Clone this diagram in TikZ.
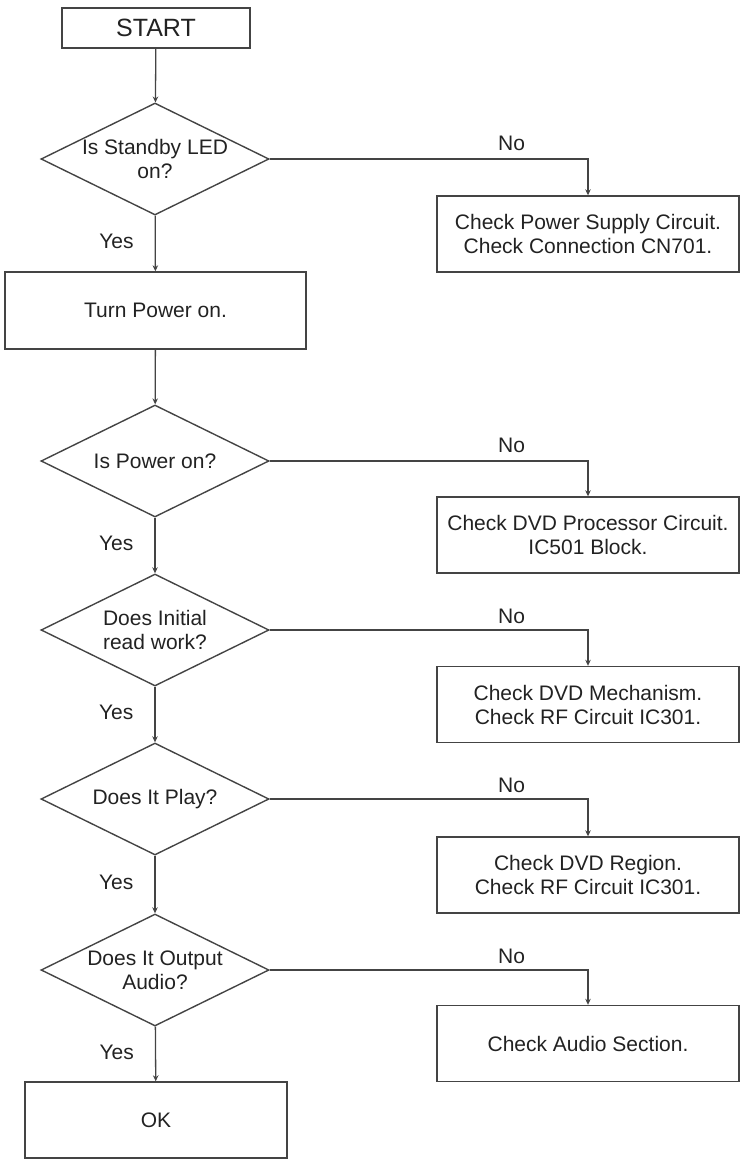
\documentclass[tikz,border=0pt]{standalone}
\usepackage{fontspec}
\setmainfont{Liberation Sans}
\usepackage{xcolor}
\usepackage{tikz}
\usetikzlibrary{positioning,arrows.meta,shapes.geometric}
\definecolor{ink}{HTML}{222222}
\definecolor{wire}{HTML}{444444}
\newcommand{\flowfont}{\fontsize{21}{24}\selectfont}
\tikzset{
  stepbox/.style={rectangle, draw=wire, line width=1.4pt, minimum height=76pt, inner sep=2pt, align=center, text=ink, font=\flowfont},
  ask/.style   ={diamond, aspect=2, draw=wire, line width=1.4pt, minimum width=228pt, minimum height=112pt, inner sep=-6pt, align=center, text=ink, font=\flowfont},
  fix/.style   ={stepbox, minimum width=302pt},
  flow/.style  ={-{Stealth[length=6pt,width=5.5pt]}, draw=wire, line width=1.3pt},
  ans/.style   ={text=ink, font=\flowfont, inner sep=3pt},
}

\begin{document}
\begin{tikzpicture}[x=1pt,y=-1pt]
        \useasboundingbox (0,0) rectangle (746,1162);
        \node[stepbox, minimum width=188pt, minimum height=40pt, font=\fontsize{25}{28}\selectfont] (S) at (156,28) {START};
        \node[ask]     (Q1) at (155,159)  {Is Standby LED\\on?};
        \node[stepbox, minimum width=301pt, minimum height=77pt] (P) at (155.5,310.5) {Turn Power on.};
        \node[ask]     (Q2) at (155,461)  {Is Power on?};
        \node[ask]     (Q3) at (155,630)  {Does Initial\\read work?};
        \node[ask]     (Q4) at (155,799)  {Does It Play?};
        \node[ask]     (Q5) at (155,970)  {Does It Output\\Audio?};
        \node[stepbox, minimum width=262pt] (K) at (156,1120) {OK};
        \node[fix]     (F1) at (588,234)  {Check Power Supply Circuit.\\Check Connection CN701.};
        \node[fix]     (F2) at (588,535)  {Check DVD Processor Circuit.\\IC501 Block.};
        \node[fix]     (F3) at (588,704.5) {Check DVD Mechanism.\\Check RF Circuit IC301.};
        \node[fix]     (F4) at (588,875)  {Check DVD Region.\\Check RF Circuit IC301.};
        \node[fix]     (F5) at (588,1043.5) {Check Audio Section.};
        \draw[flow] (S) -- (Q1);
        \draw[flow] (Q1) -- node[ans, pos=.47, left=18pt] {Yes} (P);
        \draw[flow] (P) -- (Q2);
        \draw[flow] (Q2) -- node[ans, pos=.47, left=18pt] {Yes} (Q3);
        \draw[flow] (Q3) -- node[ans, pos=.47, left=18pt] {Yes} (Q4);
        \draw[flow] (Q4) -- node[ans, pos=.47, left=18pt] {Yes} (Q5);
        \draw[flow] (Q5) -- node[ans, pos=.47, left=18pt] {Yes} (K);
        \draw[flow] (Q1.east) -| node[ans, pos=.38, above=5pt] {No} (F1.north);
        \draw[flow] (Q2.east) -| node[ans, pos=.38, above=5pt] {No} (F2.north);
        \draw[flow] (Q3.east) -| node[ans, pos=.38, above=3pt] {No} (F3.north);
        \draw[flow] (Q4.east) -| node[ans, pos=.38, above=3pt] {No} (F4.north);
        \draw[flow] (Q5.east) -| node[ans, pos=.38, above=3pt] {No} (F5.north);
      \end{tikzpicture}
\end{document}
